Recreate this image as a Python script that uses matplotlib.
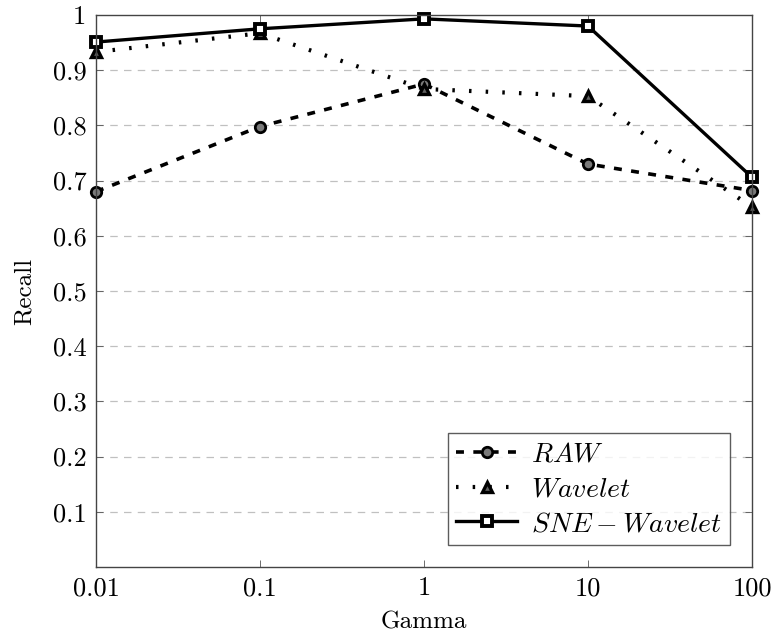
import numpy as np
import matplotlib.pyplot as plt

plt.rcParams["font.family"] = "serif"
plt.rcParams["font.serif"] = ["cmr10", "DejaVu Serif"]
plt.rcParams["mathtext.fontset"] = "cm"
plt.rcParams["axes.formatter.use_mathtext"] = True

gamma = [0.01, 0.1, 1, 10, 100]
gamma_labels = ["0.01", "0.1", "1", "10", "100"]
raw = [0.680, 0.798, 0.875, 0.730, 0.682]
wavelet = [0.933, 0.967, 0.866, 0.853, 0.652]
sne_wavelet = [0.951, 0.975, 0.993, 0.980, 0.706]
yticks = [0.1, 0.2, 0.3, 0.4, 0.5, 0.6, 0.7, 0.8, 0.9, 1.0]
ytick_labels = ["0.1", "0.2", "0.3", "0.4", "0.5", "0.6", "0.7", "0.8", "0.9", "1"]

fig = plt.figure(figsize=(7.72, 6.37), dpi=100)
ax = fig.add_axes([96 / 772, 1 - 567 / 637, 656 / 772, 552 / 637])

ax.plot(gamma, raw, linestyle=(0, (2.2, 2.6)), color="black", lw=2.6,
        marker="o", ms=7.5, mfc="#7a7a7a", mec="black", mew=2.0,
        label="$RAW$", clip_on=False)
ax.plot(gamma, wavelet, linestyle=(0, (0.6, 3.4)), color="black", lw=3.0,
        marker="^", ms=7.5, mfc="#606060", mec="black",
        mew=2.4, label="$Wavelet$", clip_on=False)
ax.plot(gamma, sne_wavelet, linestyle="-", color="black", lw=2.4,
        marker="s", ms=7, mfc="white", mec="black", mew=2.8,
        label="$SNE-Wavelet$", clip_on=False)

ax.set_xscale("log")
ax.set_xlim(0.01, 100)
ax.set_ylim(0, 1)
ax.set_xticks(gamma)
ax.set_xticklabels(gamma_labels)
ax.xaxis.set_minor_locator(plt.NullLocator())
ax.set_yticks(yticks)
ax.set_yticklabels(ytick_labels)
ax.tick_params(direction="in", length=5, width=0.6, labelsize=19, pad=7,
               top=True, right=True, color="#555555")
for y in yticks[:-1]:
    ax.axhline(y, color="#c0c0c0", lw=0.9, ls=(0, (6, 5)), zorder=0)
for s in ax.spines.values():
    s.set_linewidth(1.0)
    s.set_color("#444444")

ax.set_xlabel("Gamma", fontsize=18, labelpad=8)
ax.set_ylabel("Recall", fontsize=18, labelpad=12)

leg = ax.legend(loc="lower right", bbox_to_anchor=(0.988, 0.014), fontsize=20,
                frameon=True, fancybox=False, edgecolor="#333333",
                handlelength=2.2, borderpad=0.3, labelspacing=0.3,
                handletextpad=0.5)
leg.get_frame().set_linewidth(1.0)

fig.savefig("out.png", dpi=100)
